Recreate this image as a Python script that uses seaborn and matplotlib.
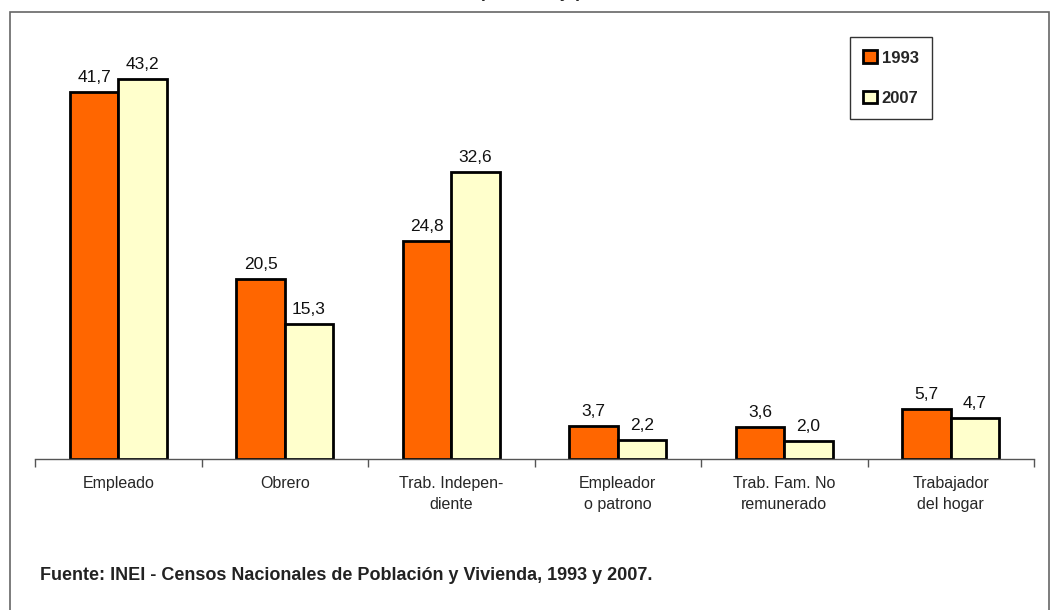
import pandas as pd
import seaborn as sns
import matplotlib.pyplot as plt
from matplotlib.patches import Rectangle

# data
categorias = ["Empleado", "Obrero", "Trab. Indepen-\ndiente", "Empleador\no patrono",
              "Trab. Fam. No\nremunerado", "Trabajador\ndel hogar"]
valores_1993 = [41.7, 20.5, 24.8, 3.7, 3.6, 5.7]
valores_2007 = [43.2, 15.3, 32.6, 2.2, 2.0, 4.7]
anios = ["1993", "2007"]

df = pd.DataFrame({
    "categoria": categorias * 2,
    "anio": [anios[0]] * len(categorias) + [anios[1]] * len(categorias),
    "valor": valores_1993 + valores_2007,
})

sns.set_style("white")
plt.rcParams["font.family"] = ["Liberation Sans", "DejaVu Sans"]

fig = plt.figure(figsize=(10.6, 6.1), dpi=100)
ax = fig.add_axes([35 / 1060, 151 / 610, 999 / 1060, 419 / 610])

sns.barplot(data=df, x="categoria", y="valor", hue="anio", hue_order=anios,
            palette=["#FF6600", "#FFFFCC"], width=0.58, edgecolor="black",
            linewidth=2, saturation=1, ax=ax, legend=True)

for cont in ax.containers:
    ax.bar_label(cont, labels=[f"{v:.1f}".replace(".", ",") for v in cont.datavalues],
                 padding=5, fontsize=12.5, color="#111111")

ax.set_ylim(0, 47.6)
ax.set_xlim(-0.5, len(categorias) - 0.5)
ax.set_xlabel("")
ax.set_ylabel("")
ax.set_yticks([])
for s in ["top", "left", "right"]:
    ax.spines[s].set_visible(False)
ax.spines["bottom"].set_color("#555555")
ax.spines["bottom"].set_linewidth(1)

# labels centred under groups, tick marks between groups
ax.tick_params(axis="x", which="major", length=0, pad=12, labelsize=11.5)
for lab in ax.get_xticklabels():
    lab.set_linespacing(1.5)
ax.set_xticks([i - 0.5 for i in range(len(categorias) + 1)], minor=True)
ax.tick_params(axis="x", which="minor", bottom=True, length=6, width=1,
               color="#555555", direction="out")

leg = ax.legend(loc="upper right", bbox_to_anchor=(0.898, 1.007), frameon=True,
                fancybox=False, edgecolor="black", handlelength=0.8, handleheight=0.8,
                handletextpad=0.3, borderpad=0.8, labelspacing=1.5, borderaxespad=0,
                prop={"weight": "bold", "size": 12})
leg.get_frame().set_linewidth(1)
for h in leg.legend_handles:
    h.set_linewidth(2)

fig.text(40 / 1060, 1 - 576 / 610,
         "Fuente: INEI - Censos Nacionales de Población y Vivienda, 1993 y 2007.",
         fontsize=13, fontweight="bold", color="#222222", va="center")

# title mostly cut off at the top edge, as in the original
fig.text(0.5, 1.012, "(Porcentaje)", fontsize=13, fontweight="bold", ha="center", va="center")

fig.patches.append(Rectangle((10 / 1060, -0.05), 1039 / 1060, (610 - 12) / 610 + 0.05,
                             transform=fig.transFigure, fill=False,
                             edgecolor="#666666", linewidth=1.2))

fig.savefig("out.png", dpi=100)
